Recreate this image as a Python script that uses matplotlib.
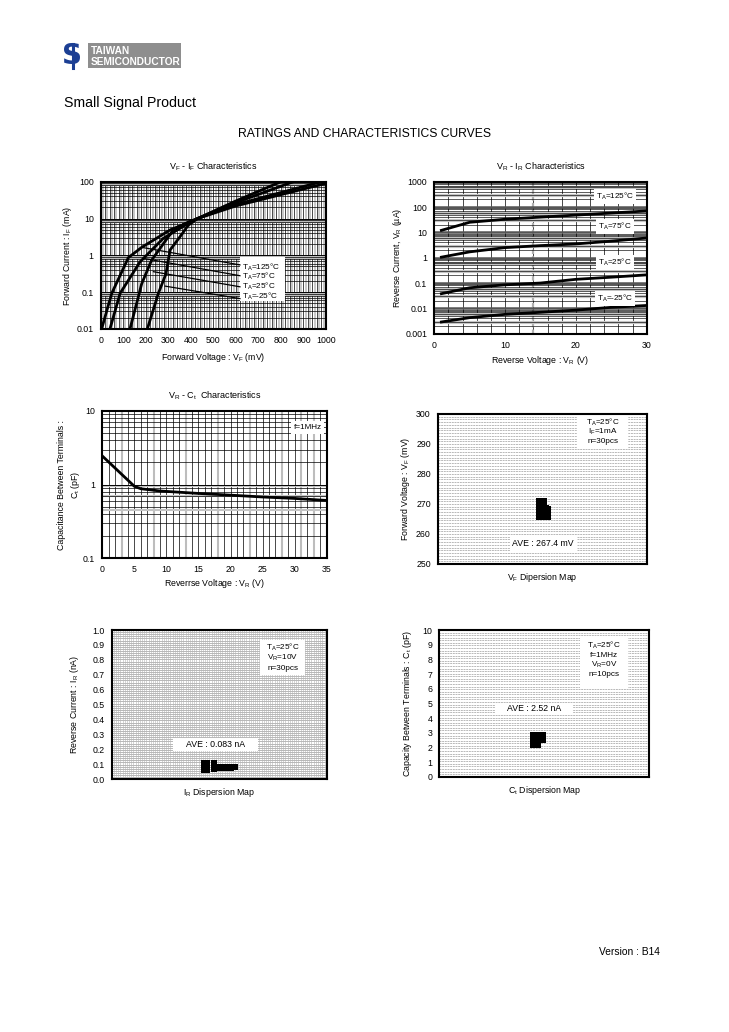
import numpy as np
import matplotlib
matplotlib.use('Agg')
import matplotlib.pyplot as plt
from matplotlib.patches import Rectangle
from matplotlib.lines import Line2D

plt.rcParams['font.family'] = ['Liberation Sans', 'DejaVu Sans']
plt.rcParams['mathtext.fontset'] = 'custom'
plt.rcParams['mathtext.rm'] = 'Liberation Sans'
plt.rcParams['mathtext.it'] = 'Liberation Sans:italic'
plt.rcParams['mathtext.bf'] = 'Liberation Sans:bold'

# ---------------- DATA ----------------
# VF - IF characteristics (mV, mA)
vf_125 = [4, 49, 123, 182, 308, 396, 430, 600, 800]
if_125 = [0.01, 0.093, 0.87, 1.65, 4.9, 8.1, 10, 30, 100]
vf_75 = [41, 86, 175, 278, 389, 430, 600, 855]
if_75 = [0.01, 0.093, 0.67, 2.9, 7.4, 10, 27, 100]
vf_25 = [130, 182, 226, 322, 389, 430, 600, 980]
if_25 = [0.01, 0.17, 0.74, 4.9, 8.0, 10, 24, 100]
vf_m25 = [207, 256, 290, 308, 352, 389, 430, 600, 1000]
if_m25 = [0.01, 0.093, 0.32, 1.4, 3.2, 6.6, 10, 22, 90]
vf_labels = ['125', '75', '25', '-25']
lead_start_v = [182, 189, 234, 286]
lead_start_i = [1.65, 0.83, 0.36, 0.146]
lead_end_v = [618, 618, 618, 618]
lead_end_i = [0.55, 0.28, 0.14, 0.067]
lead_text_i = [0.48, 0.26, 0.14, 0.075]

# VR - IR characteristics (V, uA)
ir_v = [1, 5, 10, 15, 20, 25, 30]
ir_125 = [12, 25, 33, 40, 48, 58, 70]
ir_75 = [1.05, 1.7, 2.5, 3.0, 3.5, 4.5, 6.0]
ir_25 = [0.038, 0.065, 0.085, 0.10, 0.14, 0.17, 0.21]
ir_m25 = [0.0029, 0.0043, 0.0058, 0.007, 0.0085, 0.011, 0.013]
ir_label_pos = [260, 17, 0.63, 0.025]

# VR - Ct characteristics (V, pF)
ct_v = [0, 5, 6, 9, 15, 20, 25, 30, 35]
ct_pf = [2.45, 0.95, 0.88, 0.82, 0.76, 0.72, 0.68, 0.65, 0.61]

# VF dispersion (30 pcs)
vfd_x = [0.487]*7 + [0.497]*7 + [0.507]*7 + [0.517]*4 + [0.527]*5
vfd_y = ([265.5, 266.5, 267.5, 268.5, 269.5, 270.5, 271.0]*3 +
         [265.5, 266.5, 267.5, 268.5] + [265.8, 266.4, 267.0, 267.6, 268.2])
# IR dispersion (30 pcs)
ird_x = ([0.43]*6 + [0.445]*6 + [0.475]*5 + [0.495]*3 + [0.51]*3 +
         [0.525]*2 + [0.545, 0.56, 0.575, 0.555, 0.565])
ird_y = ([0.06, 0.07, 0.08, 0.09, 0.10, 0.11]*2 + [0.07, 0.08, 0.09, 0.10, 0.11] +
         [0.075, 0.08, 0.085]*2 + [0.078, 0.082] + [0.08, 0.08, 0.08, 0.079, 0.081])
# Ct dispersion (10 pcs)
ctd_x = [0.452, 0.452, 0.452, 0.465, 0.465, 0.465, 0.48, 0.48, 0.49, 0.49]
ctd_y = [2.2, 2.5, 2.75, 2.2, 2.5, 2.75, 2.6, 2.78, 2.6, 2.78]

W, H = 729, 1032
fig = plt.figure(figsize=(W/100, H/100), dpi=100)

def pos(l, t, r, b):
    return [l/W, 1-b/H, (r-l)/W, (b-t)/H]

def ftext(x, y, s, **kw):
    fig.text(x/W, 1-y/H, s, **kw)

TS = 6.3
LS = 5.9
def style(ax):
    for sp in ax.spines.values():
        sp.set_linewidth(1.5)
        sp.set_zorder(5)
    ax.tick_params(length=0, labelsize=TS, pad=5)

def sub(a, b):
    return a + r'$_{\mathregular{' + b + r'}}$'

# ---------- Header ----------
fig.patches.append(Rectangle((87.7/W, 1-68/H), 93/W, 25/H, transform=fig.transFigure,
                             fc='#8e8e8e', ec='none'))
ftext(91, 50.5, 'TAIWAN', color='white', fontsize=7.3, fontweight='bold', va='center',
      family=['Liberation Sans Narrow', 'Liberation Sans'])
ftext(91, 62, 'SEMICONDUCTOR', color='white', fontsize=7.3, fontweight='bold', va='center',
      family=['Liberation Sans Narrow', 'Liberation Sans'])
ftext(72.5, 56, 'S', color='#1c3f94', fontsize=20, fontweight='bold', ha='center', va='center',
      family='DejaVu Sans')
fig.add_artist(Line2D([72.5/W, 72.5/W], [1-44/H, 1-68/H], color='#1c3f94', lw=2.2))
ftext(64, 103, 'Small Signal Product', fontsize=10.2, va='center')
ftext(364, 134, 'RATINGS AND CHARACTERISTICS CURVES', fontsize=8.7, ha='center', va='center')
ftext(660, 952, 'Version : B14', fontsize=7.4, ha='right', va='center')

def logminor(ax, decades, color='black', lw=0.5):
    for d in decades:
        for m in range(2, 10):
            ax.axhline(m*d, color=color, lw=lw, zorder=1)

# ---------- Plot 1: VF - IF ----------
ax1 = fig.add_axes(pos(100.7, 181.7, 326, 329))
ax1.set_yscale('log')
ax1.set_xlim(0, 1000); ax1.set_ylim(0.01, 100)
for v in range(10, 1000, 10):
    if v % 20 == 0:
        ax1.axvline(v, color='black', lw=0.5, zorder=1)
    else:
        ax1.axvline(v, color='#bdbdbd', lw=1.2, zorder=1)
for d in [0.01, 0.1, 1, 10]:
    ax1.axhline(0.88*d*10, color='#bdbdbd', lw=2.2, zorder=1)
logminor(ax1, [0.01, 0.1, 1, 10])
for d in [0.1, 1, 10]:
    ax1.axhline(d, color='black', lw=0.7, zorder=1)
for xs, ys in [(vf_125, if_125), (vf_75, if_75), (vf_25, if_25), (vf_m25, if_m25)]:
    ax1.plot(xs, ys, color='black', lw=2.0, zorder=3, solid_capstyle='round')
ax1.add_patch(Rectangle((618, 0.058), 199, 0.92-0.058, fc='white', ec='none', zorder=2))
for i in range(4):
    ax1.plot([lead_start_v[i], lead_end_v[i]], [lead_start_i[i], lead_end_i[i]],
             color='black', lw=0.9, zorder=3)
    ax1.text(625, lead_text_i[i], 'T$_{\\mathregular{A}}$=' + vf_labels[i] + '°C',
             fontsize=LS, va='center', zorder=4)
ax1.set_xticks(range(0, 1001, 100))
ax1.set_yticks([0.01, 0.1, 1, 10, 100])
ax1.set_yticklabels(['0.01', '0.1', '1', '10', '100'])
ax1.minorticks_off()
style(ax1)
ax1.set_title(sub('V', 'F') + ' - ' + sub('I', 'F') + ' Characteristics', fontsize=6.5, pad=9)
ax1.set_xlabel('Forward Voltage : ' + sub('V', 'F') + ' (mV)', fontsize=TS, labelpad=4)
ax1.set_ylabel('Forward Current : ' + sub('I', 'F') + ' (mA)', fontsize=TS, labelpad=2)

# ---------- Plot 2: VR - IR ----------
ax2 = fig.add_axes(pos(434.3, 181.7, 646.7, 333.7))
ax2.set_yscale('log')
ax2.set_xlim(0, 30); ax2.set_ylim(0.001, 1000)
for v in range(2, 30, 2):
    ax2.axvline(v, color='black', lw=0.5, zorder=1)
ax2.axvline(14, color='#b0b0b0', lw=1.6, ls=(0, (2, 1)), zorder=1)
for d in [0.001, 0.01, 0.1, 1, 10, 100]:
    ax2.axhline(3*d, color='#c4c4c4', lw=2.3, zorder=1)
    ax2.axhline(6*d, color='#c4c4c4', lw=2.3, zorder=1)
logminor(ax2, [0.001, 0.01, 0.1, 1, 10, 100], lw=0.45)
for d in [0.01, 0.1, 1, 10, 100]:
    ax2.axhline(d, color='#555555', lw=1.8, zorder=1)
for ys in [ir_125, ir_75, ir_25, ir_m25]:
    ax2.plot(ir_v, ys, color='black', lw=2.0, zorder=3)
for t, yv in zip(vf_labels, ir_label_pos):
    ax2.text(25.5, yv, 'T$_{\\mathregular{A}}$=' + t + '°C', fontsize=LS, ha='center', va='center',
             zorder=4, bbox=dict(fc='white', ec='none', pad=1.5))
ax2.set_xticks([0, 10, 20, 30])
ax2.set_yticks([0.001, 0.01, 0.1, 1, 10, 100, 1000])
ax2.set_yticklabels(['0.001', '0.01', '0.1', '1', '10', '100', '1000'])
ax2.minorticks_off()
style(ax2)
ax2.set_title(sub('V', 'R') + ' - ' + sub('I', 'R') + ' Characteristics', fontsize=6.5, pad=9)
ax2.set_xlabel('Reverse Voltage : ' + sub('V', 'R') + ' (V)', fontsize=TS, labelpad=3)
ax2.set_ylabel('Reverse Current, ' + sub('V', 'R') + ' (µA)', fontsize=TS, labelpad=1)

# ---------- Plot 3: VR - Ct ----------
ax3 = fig.add_axes(pos(102.3, 411, 326.7, 558.3))
ax3.set_yscale('log')
ax3.set_xlim(0, 35); ax3.set_ylim(0.1, 10)
for v in range(1, 35):
    if v % 5 == 3 or v == 31:
        ax3.axvline(v, color='#bdbdbd', lw=1.5, zorder=1)
    else:
        ax3.axvline(v, color='black', lw=0.5, zorder=1)
for yv in [0.45, 0.7, 0.95]:
    ax3.axhline(yv, color='#c4c4c4', lw=1.5, zorder=1)
logminor(ax3, [0.1, 1])
ax3.axhline(1, color='black', lw=0.7, zorder=1)
ax3.plot(ct_v, ct_pf, color='black', lw=2.0, zorder=3)
ax3.text(32.0, 6.0, 'f=1MHz', fontsize=LS, ha='center', va='center', zorder=4,
         bbox=dict(fc='white', ec='none', pad=2))
ax3.set_xticks(range(0, 36, 5))
ax3.set_yticks([0.1, 1, 10])
ax3.set_yticklabels(['0.1', '1', '10'])
ax3.minorticks_off()
style(ax3)
ax3.set_title(sub('V', 'R') + ' - ' + sub('C', 't') + '  Characteristics', fontsize=6.5, pad=9)
ax3.set_xlabel('Reverrse Voltage : ' + sub('V', 'R') + ' (V)', fontsize=TS, labelpad=2)
ax3.set_ylabel('Capacitance Between Terminals :\n' + sub('C', 't') + ' (pF)', fontsize=TS,
               labelpad=1, linespacing=1.25)

def disp_grid(ax, lo, hi, n, vert=0, dash=(0, (2.5, 1)), color='#a5a5a5'):
    for yv in np.linspace(lo, hi, n)[1:-1]:
        ax.axhline(yv, color=color, lw=0.55, ls=dash, zorder=1)
    if vert:
        for xv in np.linspace(0, 1, vert)[1:-1]:
            ax.axvline(xv, color='#b5b5b5', lw=0.4, zorder=1)

# ---------- Plot 4: VF dispersion ----------
ax4 = fig.add_axes(pos(437.7, 414, 646.7, 564))
ax4.set_xlim(0, 1); ax4.set_ylim(250, 300)
disp_grid(ax4, 250, 300, 56)
ax4.scatter(vfd_x, vfd_y, marker='s', s=22, color='black', zorder=3, linewidths=0)
ax4.add_patch(Rectangle((0.665, 288.8), 0.245, 10.9, fc='white', ec='none', zorder=2))
ax4.text(0.79, 297.1, 'T$_{\\mathregular{A}}$=25°C', fontsize=LS, ha='center', va='center', zorder=4)
ax4.text(0.79, 294.0, 'I$_{\\mathregular{F}}$=1mA', fontsize=LS, ha='center', va='center', zorder=4)
ax4.text(0.79, 290.9, 'n=30pcs', fontsize=LS, ha='center', va='center', zorder=4)
ax4.text(0.505, 256.7, 'AVE : 267.4 mV', fontsize=TS, ha='center', va='center', zorder=4,
         bbox=dict(fc='white', ec='none', pad=2))
ax4.set_xticks([])
ax4.set_yticks(range(250, 301, 10))
style(ax4)
ax4.set_xlabel(sub('V', 'F') + ' Dipersion Map', fontsize=TS, labelpad=5)
ax4.set_ylabel('Forward Voltage : ' + sub('V', 'F') + ' (mV)', fontsize=TS, labelpad=3)

# ---------- Plot 5: IR dispersion ----------
ax5 = fig.add_axes(pos(111.7, 630, 326.7, 779.3))
ax5.set_xlim(0, 1); ax5.set_ylim(0, 1)
disp_grid(ax5, 0, 1, 72, vert=100, dash='-')
ax5.scatter(ird_x, ird_y, marker='s', s=22, color='black', zorder=3, linewidths=0)
ax5.add_patch(Rectangle((0.69, 0.70), 0.21, 0.23, fc='white', ec='none', zorder=2))
ax5.text(0.795, 0.885, 'T$_{\\mathregular{A}}$=25°C', fontsize=LS, ha='center', va='center', zorder=4)
ax5.text(0.795, 0.815, 'V$_{\\mathregular{R}}$=10V', fontsize=LS, ha='center', va='center', zorder=4)
ax5.text(0.795, 0.745, 'n=30pcs', fontsize=LS, ha='center', va='center', zorder=4)
ax5.add_patch(Rectangle((0.287, 0.19), 0.395, 0.085, fc='white', ec='none', zorder=2))
ax5.text(0.485, 0.232, 'AVE : 0.083 nA', fontsize=TS, ha='center', va='center', zorder=4)
ax5.set_xticks([])
ax5.set_yticks(np.arange(0, 1.01, 0.1))
ax5.set_yticklabels(['%.1f' % v for v in np.arange(0, 1.01, 0.1)])
style(ax5)
ax5.set_xlabel(sub('I', 'R') + ' Dispersion Map', fontsize=TS, labelpad=5)
ax5.set_ylabel('Reverse Current : ' + sub('I', 'R') + ' (nA)', fontsize=TS, labelpad=8)

# ---------- Plot 6: Ct dispersion ----------
ax6 = fig.add_axes(pos(439.3, 630, 649.3, 776.7))
ax6.set_xlim(0, 1); ax6.set_ylim(0, 10)
disp_grid(ax6, 0, 10, 58)
ax6.scatter(ctd_x, ctd_y, marker='s', s=30, color='black', zorder=3, linewidths=0)
ax6.add_patch(Rectangle((0.67, 6.0), 0.23, 3.43, fc='white', ec='none', zorder=2))
for k, s in enumerate(['T$_{\\mathregular{A}}$=25°C', 'f=1MHz', 'V$_{\\mathregular{R}}$=0V', 'n=10pcs']):
    ax6.text(0.785, 8.95 - 0.66*k, s, fontsize=LS, ha='center', va='center', zorder=4)
ax6.add_patch(Rectangle((0.265, 4.27), 0.373, 0.75, fc='white', ec='none', zorder=2))
ax6.text(0.45, 4.64, 'AVE : 2.52 nA', fontsize=TS, ha='center', va='center', zorder=4)
ax6.set_xticks([])
ax6.set_yticks(range(0, 11))
style(ax6)
ax6.set_xlabel(sub('C', 't') + ' Dispersion Map', fontsize=TS, labelpad=5)
ax6.set_ylabel('Capacity Between Terminals : ' + sub('C', 't') + ' (pF)', fontsize=TS, labelpad=6)

fig.savefig('out.png', dpi=100)
